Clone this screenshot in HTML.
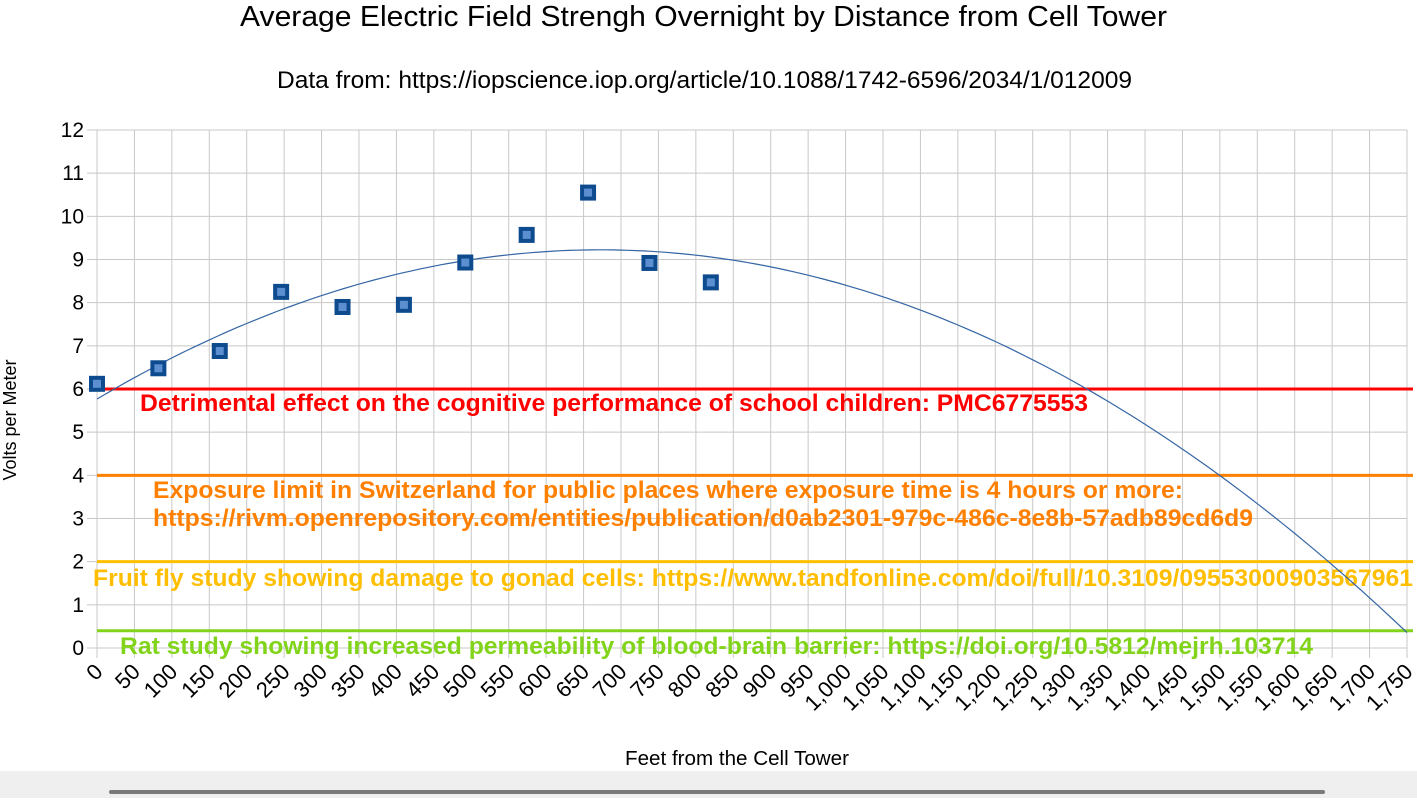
<!DOCTYPE html>
<html><head><meta charset="utf-8"><style>
body{margin:0;background:#fff;width:1417px;height:798px;overflow:hidden;font-family:"Liberation Sans",sans-serif}
</style></head><body>
<svg id="c" width="1417" height="798" xmlns="http://www.w3.org/2000/svg" font-family="Liberation Sans, sans-serif"></svg>
<script>
const xValues=[0,82,164,246,328,410,492,574,656,738,820];
const yValues=[6.12,6.48,6.88,8.25,7.90,7.95,8.93,9.57,10.55,8.92,8.47];
const yTicks=[0,1,2,3,4,5,6,7,8,9,10,11,12];
const xTicks=[];for(let v=0;v<=1750;v+=50)xTicks.push(v);
const refValues=[6,4,2,0.4];
const refColors=["#ff0000","#ff8000","#ffbf00","#81d41a"];
const refLabels=[["Detrimental effect on the cognitive performance of school children: PMC6775553"],["Exposure limit in Switzerland for public places where exposure time is 4 hours or more:","https://rivm.openrepository.com/entities/publication/d0ab2301-979c-486c-8e8b-57adb89cd6d9"],["Fruit fly study showing damage to gonad cells: https://www.tandfonline.com/doi/full/10.3109/09553000903567961"],["Rat study showing increased permeability of blood-brain barrier: https://doi.org/10.5812/mejrh.103714"]];
const X0=97,X1=1407,Y0=648,Y1=130;
const sx=v=>X0+(X1-X0)*v/1750, sy=v=>Y0-(Y0-Y1)*v/12;
const svg=document.getElementById('c');const NS='http://www.w3.org/2000/svg';
function el(t,a,txt){const e=document.createElementNS(NS,t);for(const k in a)e.setAttribute(k,a[k]);if(txt!=null)e.textContent=txt;svg.appendChild(e);return e;}
let e;
e=el('rect',{x:0,y:771,width:1417,height:27,fill:'#efefef'});


e=el('rect',{x:109,y:790,width:1216,height:4,fill:'#7a7a7a',rx:2});


e=el('text',{x:240,y:26,'font-size':29,fill:'#000',textLength:927,lengthAdjust:'spacingAndGlyphs'},'Average Electric Field Strengh Overnight by Distance from Cell Tower');


e=el('text',{x:277,y:88,'font-size':24,fill:'#000',textLength:855,lengthAdjust:'spacingAndGlyphs'},'Data from: https://iopscience.iop.org/article/10.1088/1742-6596/2034/1/012009');


xTicks.forEach(v=>{const x=sx(v);
 e=el('line',{x1:x,x2:x,y1:Y1,y2:Y0+10,stroke:'#c8c8c8','stroke-width':1});
 
 
 const lab=v>=1000?(Math.floor(v/1000)+','+String(v%1000).padStart(3,'0')):String(v);
 e=el('text',{x:x+7,y:Y0+25,'font-size':22,'text-anchor':'end',fill:'#000',transform:`rotate(-45 ${x+7} ${Y0+25})`},lab);
 
 
});
yTicks.forEach(v=>{const y=sy(v);
 e=el('line',{x1:X0-10,x2:X1,y1:y,y2:y,stroke:'#c8c8c8','stroke-width':1});
 
 
 e=el('text',{x:X0-13,y:y+7,'font-size':21,'text-anchor':'end',fill:'#000'},String(v));
 
 
});
e=el('text',{x:16,y:420,'font-size':18,'text-anchor':'middle',fill:'#000',transform:'rotate(-90 16 420)'},'Volts per Meter');


e=el('text',{x:625,y:765,'font-size':20,fill:'#000',textLength:224,lengthAdjust:'spacingAndGlyphs'},'Feet from the Cell Tower');


const labPos=[[140,[411],[948]],[153,[498,526],[1030,1100]],[93,[586],[1320]],[120,[654],[1193]]];
refValues.forEach((v,i)=>{
 e=el('line',{x1:X0,x2:1413,y1:sy(v),y2:sy(v),stroke:refColors[i],'stroke-width':3});
 
 
 refLabels[i].forEach((t,j)=>{
  e=el('text',{x:labPos[i][0],y:labPos[i][1][j],'font-size':24,'font-weight':'bold',fill:refColors[i],textLength:labPos[i][2][j],lengthAdjust:'spacingAndGlyphs'},t);
  
  
 });
});
(function(){let n=xValues.length,S=[0,0,0,0,0],T=[0,0,0];
 for(let i=0;i<n;i++){const x=xValues[i],y=yValues[i];for(let k=0;k<5;k++)S[k]+=Math.pow(x,k);for(let k=0;k<3;k++)T[k]+=y*Math.pow(x,k);}
 const A=[[S[0],S[1],S[2],T[0]],[S[1],S[2],S[3],T[1]],[S[2],S[3],S[4],T[2]]];
 for(let c=0;c<3;c++){for(let r=c+1;r<3;r++){const f=A[r][c]/A[c][c];for(let k=c;k<4;k++)A[r][k]-=f*A[c][k];}}
 const co=[0,0,0];for(let r=2;r>=0;r--){let s=A[r][3];for(let k=r+1;k<3;k++)s-=A[r][k]*co[k];co[r]=s/A[r][r];}
 let d='';for(let x=0;x<=1750;x+=10){const y=co[0]+co[1]*x+co[2]*x*x;d+=(x?'L':'M')+sx(x).toFixed(1)+' '+sy(y).toFixed(1);}
 e=el('path',{d:d,fill:'none',stroke:'#3465a4','stroke-width':1.2});
 
 
})();
xValues.forEach((v,i)=>{const x=sx(v),y=sy(yValues[i]);
 e=el('rect',{x:x-6,y:y-6,width:12,height:12,fill:'#5b8fd0',stroke:'#0d4a8e','stroke-width':4});
 
 
});
</script>
</body></html>
